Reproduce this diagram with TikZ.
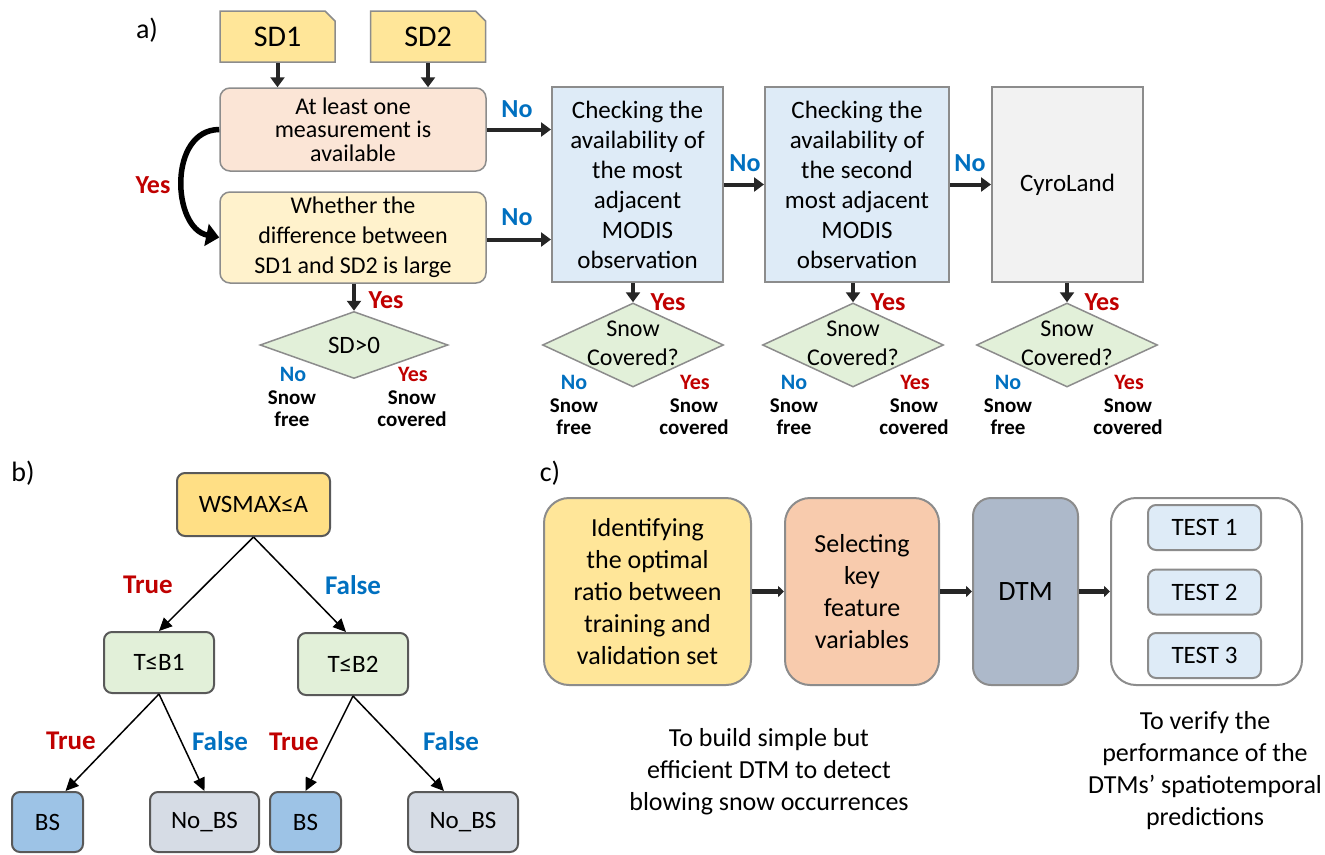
\documentclass[tikz,border=0pt]{standalone}
\usepackage{fontspec}
\setmainfont{Carlito}
\usetikzlibrary{positioning,shapes.geometric,shapes.misc,arrows.meta}

\definecolor{linegray}{HTML}{8C8C8C}
\definecolor{darkline}{HTML}{595959}
\definecolor{arrowdark}{HTML}{262626}
\definecolor{sdyellow}{HTML}{FFE699}
\definecolor{peach}{HTML}{FBE5D6}
\definecolor{cream}{HTML}{FFF2CC}
\definecolor{modisblue}{HTML}{DEEBF7}
\definecolor{cyrogray}{HTML}{F2F2F2}
\definecolor{diamgreen}{HTML}{E2F0D9}
\definecolor{rootyellow}{HTML}{FFDF85}
\definecolor{bsblue}{HTML}{9DC3E6}
\definecolor{nobsgray}{HTML}{D6DCE5}
\definecolor{selorange}{HTML}{F8CBAD}
\definecolor{dtmgray}{HTML}{ADB9CA}
\definecolor{yesred}{HTML}{C00000}
\definecolor{noblue}{HTML}{0070C0}

\tikzstyle{panellbl} = [inner sep=0pt, font=\fontsize{28}{32}\selectfont]
\tikzstyle{sdbox} = [chamfered rectangle, chamfered rectangle corners=north east,
    chamfered rectangle xsep=5pt, chamfered rectangle ysep=5pt,
    draw=linegray, fill=sdyellow, line width=1.5pt, inner sep=0pt,
    minimum width=115pt, minimum height=51pt, font=\fontsize{30}{34}\selectfont]
\tikzstyle{qbox} = [draw=linegray, line width=1.5pt, rounded corners=10pt,
    minimum width=266pt, align=center, inner sep=0pt]
\tikzstyle{modisbox} = [draw=linegray, line width=2pt, fill=modisblue,
    minimum height=195pt, align=center, inner sep=0pt,
    font=\fontsize{25}{30}\selectfont]
\tikzstyle{thickarrow} = [line width=4pt, draw=arrowdark,
    -{Triangle[length=10pt,width=14pt]}]
\tikzstyle{yesarrow} = [line width=5.5pt, draw=black,
    -{Triangle[length=13pt,width=22pt]}]
\tikzstyle{nolbl} = [text=noblue, inner sep=0pt, font=\bfseries\fontsize{26}{28}\selectfont]
\tikzstyle{yeslbl} = [text=yesred, inner sep=0pt, font=\bfseries\fontsize{26}{28}\selectfont]
\tikzstyle{snowdiam} = [diamond, draw=linegray, fill=diamgreen, line width=1.5pt,
    inner sep=0pt, minimum width=181pt, minimum height=84pt]
\tikzstyle{diamtext} = [align=center, inner sep=0pt, font=\fontsize{24}{29}\selectfont]
\tikzstyle{smallno} = [text=noblue, inner sep=0pt, font=\bfseries\fontsize{22}{24}\selectfont]
\tikzstyle{smallyes} = [text=yesred, inner sep=0pt, font=\bfseries\fontsize{22}{24}\selectfont]
\tikzstyle{outlbl} = [align=center, inner sep=0pt, font=\bfseries\fontsize{21}{22}\selectfont]
\tikzstyle{treebox} = [draw=darkline, line width=2pt, rounded corners=8pt,
    minimum height=60pt, inner sep=0pt, font=\fontsize{25}{28}\selectfont]
\tikzstyle{treearrow} = [line width=1.5pt, draw=black,
    -{Triangle[length=13pt,width=12pt]}]
\tikzstyle{truelbl} = [text=yesred, inner sep=0pt, font=\bfseries\fontsize{27}{30}\selectfont]
\tikzstyle{falselbl} = [text=noblue, inner sep=0pt, font=\bfseries\fontsize{27}{30}\selectfont]
\tikzstyle{stepbox} = [draw=linegray, line width=2pt, rounded corners=25pt,
    minimum height=187pt, align=center, inner sep=0pt,
    font=\fontsize{26}{32}\selectfont]
\tikzstyle{testbox} = [draw=linegray, line width=2pt, fill=modisblue, rounded corners=8pt,
    minimum width=113pt, minimum height=45pt, inner sep=0pt,
    font=\fontsize{25}{28}\selectfont]
\tikzstyle{flowarrow} = [line width=5pt, draw=arrowdark,
    -{Triangle[length=6pt,width=11pt]}]
\tikzstyle{captxt} = [align=center, inner sep=0pt, font=\fontsize{26}{32}\selectfont]

\begin{document}
\begin{tikzpicture}[x=1pt,y=-1pt]
\path[use as bounding box, fill=white] (0,0) rectangle (1325,854);

%------------ a) snow depth and MODIS gap filling ---------------------
\node[panellbl] (lbla) at (147,30) {a)};
\node[sdbox] (sd1) at (277.5,36.5) {SD1};
\node[sdbox] (sd2) at (428,36.5) {SD2};
\node[qbox, fill=peach, minimum height=83pt, font=\fontsize{24}{23.5}\selectfont]
    (avail) at (353,129.5) {At least one\\measurement is\\available};
\node[qbox, fill=cream, minimum height=91pt, font=\fontsize{24}{30}\selectfont]
    (diff) at (353,237.5) {Whether the\\difference between\\SD1 and SD2 is large};
\node[modisbox, minimum width=171pt] (modis1) at (637.5,184.5)
    {Checking the\\availability of\\the most\\adjacent\\MODIS\\observation};
\node[modisbox, minimum width=184pt] (modis2) at (857,184.5)
    {Checking the\\availability of\\the second\\most adjacent\\MODIS\\observation};
\node[modisbox, fill=cyrogray, minimum width=151pt] (cyro) at (1067.5,184.5) {CyroLand};

\draw[thickarrow] (sd1.south) -- (sd1.south |- avail.north);
\draw[thickarrow] (sd2.south) -- (sd2.south |- avail.north);
\draw[yesarrow] (avail.west) .. controls (168,130) and (172,228) .. (diff.west);
\node[yeslbl] (yescurve) at (153,185) {Yes};

\draw[thickarrow] (avail.east) -- (avail.east -| modis1.west);
\draw[thickarrow] ([yshift=-2pt]diff.east) -- ([yshift=-2pt]diff.east -| modis1.west);
\draw[thickarrow] (modis1.east) -- (modis2.west);
\draw[thickarrow] (modis2.east) -- (cyro.west);
\node[nolbl] (no1) at (517,109) {No};
\node[nolbl] (no2) at (517,217) {No};
\node[nolbl] (no3) at (745,163) {No};
\node[nolbl] (no4) at (970,163) {No};

% decision diamonds
\node[snowdiam, minimum width=188pt, minimum height=67pt] (d0) at (354,345) {};
\node[diamtext, font=\fontsize{25}{29}\selectfont] (d0txt) at (d0) {SD>0};
\node[snowdiam] (d1) at (633,345) {};
\node[snowdiam] (d2) at (853,345) {};
\node[snowdiam] (d3) at (1067,345) {};

\draw[thickarrow] (diff.south -| d0.north) -- (d0.north);
\draw[thickarrow] (modis1.south -| d1.north) -- (d1.north);
\draw[thickarrow] (modis2.south -| d2.north) -- (d2.north);
\draw[thickarrow] (cyro.south -| d3.north) -- (d3.north);

\node[yeslbl] (d0yes) at (386,300) {Yes};
\node[smallno] (d0no) at (293,374) {No};
\node[smallyes] (d0snowyes) at (413,374) {Yes};
\node[outlbl] (d0free) at (292,409) {Snow\\free};
\node[outlbl] (d0cov) at (412,409) {Snow\\covered};

\foreach \d in {d1,d2,d3} {
    \node[diamtext] (\d txt) at ([yshift=2pt]\d.center) {Snow\\Covered?};
    \node[yeslbl] (\d yes) at ([xshift=35pt,yshift=43pt]\d.center) {Yes};
    \node[smallno] (\d no) at ([xshift=-59pt,yshift=-37pt]\d.center) {No};
    \node[smallyes] (\d snowyes) at ([xshift=62pt,yshift=-37pt]\d.center) {Yes};
    \node[outlbl] (\d free) at ([xshift=-59pt,yshift=-72pt]\d.center) {Snow\\free};
    \node[outlbl] (\d cov) at ([xshift=61pt,yshift=-72pt]\d.center) {Snow\\covered};
}

%------------ b) decision tree ---------------------
\node[panellbl] (lblb) at (23,473) {b)};
\node[treebox, fill=rootyellow, minimum width=153pt, minimum height=63pt] (root) at (253.5,504.5) {WSMAX≤A};
\node[treebox, fill=diamgreen, minimum width=110pt, minimum height=61pt] (tb1) at (159,662.5) {T≤B1};
\node[treebox, fill=diamgreen, minimum width=110pt, minimum height=62pt] (tb2) at (353,664) {T≤B2};
\node[treebox, fill=bsblue, minimum width=71pt] (bs1) at (47.5,822) {BS};
\node[treebox, fill=nobsgray, minimum width=109pt] (nobs1) at (204.5,822) {No\_BS};
\node[treebox, fill=bsblue, minimum width=71pt] (bs2) at (305.5,822) {BS};
\node[treebox, fill=nobsgray, minimum width=110pt] (nobs2) at (463,822) {No\_BS};

\draw[treearrow] (root.south) -- (tb1.north);
\draw[treearrow] (root.south) -- ([xshift=-7pt]tb2.north);
\draw[treearrow] (tb1.south) -- ([xshift=18pt]bs1.north);
\draw[treearrow] (tb1.south) -- (nobs1.north);
\draw[treearrow] (tb2.south) -- (bs2.north);
\draw[treearrow] (tb2.south) -- ([xshift=-19pt]nobs2.north);

\node[truelbl] (t1) at (148,585) {True};
\node[falselbl] (f1) at (353,585) {False};
\node[truelbl] (t2) at (71,741) {True};
\node[falselbl] (f2) at (220,741) {False};
\node[truelbl] (t3) at (294,742) {True};
\node[falselbl] (f3) at (451,741) {False};

%------------ c) workflow ---------------------
\node[panellbl] (lblc) at (550,473) {c)};
\node[stepbox, fill=sdyellow, minimum width=207pt] (ratio) at (647.5,591.5)
    {Identifying\\the optimal\\ratio between\\training and\\validation set};
\node[stepbox, fill=selorange, minimum width=154pt] (select) at (862,591.5)
    {Selecting\\key\\feature\\variables};
\node[stepbox, fill=dtmgray, minimum width=105pt, rounded corners=18pt,
    font=\fontsize{28}{32}\selectfont] (dtm) at (1025.5,591.5) {DTM};
\node[stepbox, fill=white, minimum width=191pt] (tests) at (1206.5,591.5) {};
\node[testbox] (test1) at (1204.5,527.5) {TEST 1};
\node[testbox] (test2) at (1204.5,592) {TEST 2};
\node[testbox] (test3) at (1204.5,655.5) {TEST 3};

\draw[flowarrow] (ratio.east) -- (select.west);
\draw[flowarrow] (select.east) -- (dtm.west);
\draw[flowarrow] (dtm.east) -- (tests.west);

\node[captxt] (capbuild) at (769,772)
    {To build simple but\\efficient DTM to detect\\blowing snow occurrences};
\node[captxt] (capverify) at (1205,771)
    {To verify the\\performance of the\\DTMs’ spatiotemporal\\predictions};
\end{tikzpicture}
\end{document}
